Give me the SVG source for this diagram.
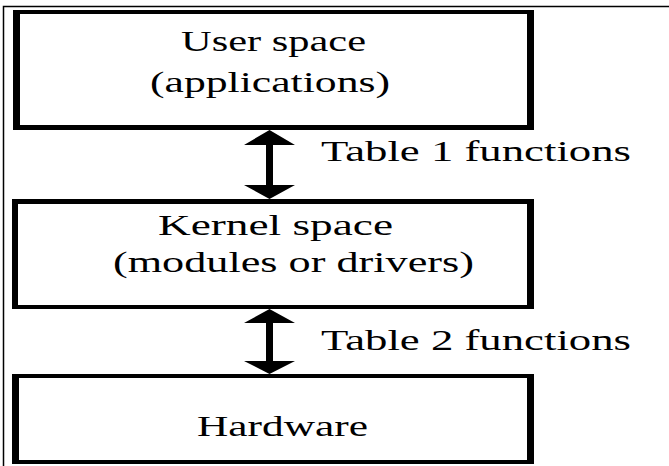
<svg xmlns="http://www.w3.org/2000/svg" width="669" height="466" viewBox="0 0 669 466">
<style>
.box{fill:#000}
.t{font-family:"Liberation Serif","Times New Roman",serif;font-size:29px;fill:#000}
.arr{fill:#000}
</style>
<rect width="669" height="466" fill="#fff"/>
<g id="frame"><path d="M3.5,466 V6.5 H669" fill="none" stroke="#000" stroke-width="1.5"/></g>
<g id="user">
<path class="box" fill-rule="evenodd" d="M13,10 H534 V130 H13 Z M20,14 V125 H527 V14 Z"/>
<text class="t" x="181" y="51" textLength="185" lengthAdjust="spacingAndGlyphs">User space</text>
<text class="t" x="150" y="92" textLength="240" lengthAdjust="spacingAndGlyphs">(applications)</text>
</g>
<g id="kernel">
<path class="box" fill-rule="evenodd" d="M12,199 H534 V309 H12 Z M18,204 V305 H527 V204 Z"/>
<text class="t" x="158" y="235" textLength="235" lengthAdjust="spacingAndGlyphs">Kernel space</text>
<text class="t" x="113" y="272" textLength="361" lengthAdjust="spacingAndGlyphs">(modules or drivers)</text>
</g>
<g id="hardware">
<path class="box" fill-rule="evenodd" d="M12,374 H534 V464 H12 Z M19,378 V460 H527 V378 Z"/>
<text class="t" x="197" y="436" textLength="171" lengthAdjust="spacingAndGlyphs">Hardware</text>
</g>
<g id="connectors">
<path class="arr" d="M269.5,130 L295,145 L273,145 L273,185 L295,185 L269.5,199 L244,185 L266,185 L266,145 L244,145 Z"/>
<path class="arr" d="M269.5,309 L295,323 L273,323 L273,361 L295,361 L269.5,374 L244,361 L266,361 L266,323 L244,323 Z"/>
<text class="t" x="321" y="161" textLength="310" lengthAdjust="spacingAndGlyphs">Table 1 functions</text>
<text class="t" x="321" y="350" textLength="310" lengthAdjust="spacingAndGlyphs">Table 2 functions</text>
</g>
</svg>
